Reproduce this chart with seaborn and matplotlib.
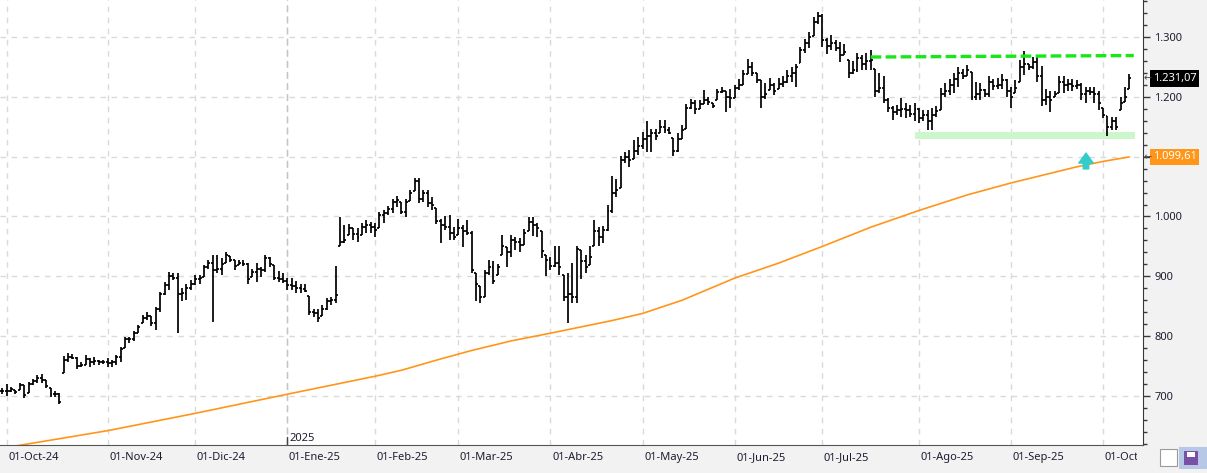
import numpy as np
import matplotlib
matplotlib.use('Agg')
import matplotlib.pyplot as plt
import seaborn as sns
from matplotlib.transforms import Bbox, blended_transform_factory
from matplotlib.patches import Rectangle
from matplotlib.ticker import MultipleLocator

# daily bars (30-Sep-24 .. 09-Oct-25)
highs = [713, 720, 715, 710, 722, 718, 724, 728, 735, 736, 727, 713, 708, 705,
         767, 772, 770, 766, 757, 768, 763, 766, 760, 760, 763, 760, 768, 782, 799,
         799, 809, 819, 835, 841, 834, 849, 874, 891, 908, 905, 905, 880, 888, 894, 902,
         902, 919, 927, 936, 936, 930, 941, 934, 927, 928, 927, 922, 913, 922, 916, 936,
         932, 919, 909, 905, 898, 897, 893, 888, 888, 867, 846, 846, 852, 863, 865, 917,
         999, 986, 988, 980, 980, 989, 994, 991, 989, 1008, 1011, 1018, 1030, 1034, 1025,
         1029, 1045, 1065, 1064, 1045, 1044, 1032, 1015, 995, 1001, 1003, 983, 995, 986,
         994, 975, 905, 883, 911, 927, 926, 921, 969, 949, 969, 965, 964, 979, 999, 999, 989,
         975, 936, 933, 951, 950, 902, 906, 923, 951, 944, 936, 951, 994, 983, 984, 1019,
         1067, 1062, 1101, 1108, 1111, 1128, 1133, 1142, 1160, 1147, 1146, 1162, 1162, 1149,
         1131, 1139, 1153, 1188, 1196, 1195, 1194, 1211, 1200, 1190, 1213,
         1216, 1209, 1213, 1220, 1229, 1244, 1263, 1259, 1240, 1228, 1223, 1231, 1223, 1231,
         1234, 1244, 1250, 1255, 1284, 1296, 1309, 1333, 1342, 1338, 1299, 1303, 1295, 1291,
         1289, 1262, 1260, 1274, 1270, 1273,
         1278, 1246, 1239, 1234, 1198, 1184, 1186, 1198, 1189, 1186, 1190, 1181, 1178, 1178,
         1181, 1184, 1214, 1223, 1229, 1239, 1249, 1246, 1253, 1242, 1224, 1223, 1213, 1235,
         1229, 1231, 1238, 1229, 1216, 1228, 1261, 1276, 1255, 1266, 1267, 1252, 1213, 1209,
         1209, 1235, 1234, 1229, 1229, 1228, 1223, 1217, 1216, 1217, 1209, 1181, 1168, 1167,
         1166, 1200, 1217, 1238]
lows = [703, 700, 706, 703, 710, 697, 705, 718, 722, 722, 713, 699, 699, 687,
        738, 757, 761, 745, 749, 752, 749, 752, 752, 754, 749, 749, 752, 757, 780,
        788, 792, 805, 822, 827, 817, 810, 841, 869, 877, 894, 805, 858, 860, 877, 886,
        888, 899, 913, 824, 905, 902, 922, 924, 911, 919, 917, 888, 899, 891, 899, 908,
        916, 894, 891, 889, 877, 877, 872, 872, 873, 835, 832, 824, 833, 843, 852, 855,
        951, 955, 969, 961, 958, 969, 972, 973, 966, 980, 989, 1003, 1005, 1016, 1004,
        999, 1026, 1042, 1023, 1025, 1016, 1011, 988, 955, 977, 961, 961, 969, 949,
        969, 906, 858, 855, 866, 902, 888, 902, 936, 916, 932, 944, 941, 952, 976, 967, 966,
        930, 900, 911, 916, 902, 858, 822, 856, 855, 895, 906, 919, 950, 951, 956, 975,
        1005, 1032, 1047, 1090, 1082, 1096, 1103, 1112, 1107, 1108, 1127, 1139, 1139, 1138,
        1101, 1107, 1129, 1147, 1179, 1172, 1179, 1188, 1186, 1181, 1194,
        1207, 1175, 1181, 1198, 1211, 1220, 1238, 1235, 1223, 1181, 1196, 1211, 1203, 1213,
        1217, 1223, 1224, 1216, 1257, 1274, 1281, 1302, 1322, 1283, 1272, 1279, 1276, 1259,
        1270, 1231, 1238, 1242, 1245, 1244,
        1245, 1200, 1206, 1189, 1175, 1161, 1170, 1167, 1164, 1166, 1159, 1156, 1159, 1145,
        1144, 1166, 1178, 1200, 1203, 1207, 1216, 1229, 1235, 1194, 1195, 1195, 1199, 1200,
        1212, 1213, 1213, 1200, 1181, 1206, 1224, 1237, 1244, 1246, 1225, 1184, 1186, 1174,
        1200, 1207, 1206, 1209, 1209, 1213, 1194, 1189, 1203, 1189, 1178, 1164, 1134, 1145,
        1145, 1178, 1192, 1213]
closes = [708, 708, 711, 706, 718, 702, 720, 725, 730, 727, 716, 704, 703, 690,
          760, 766, 764, 750, 752, 762, 756, 758, 756, 757, 755, 757, 766, 778, 796,
          795, 806, 816, 830, 834, 822, 846, 870, 885, 900, 898, 870, 872, 880, 888, 896,
          898, 915, 922, 910, 912, 920, 935, 928, 918, 922, 920, 895, 908, 912, 910, 930,
          920, 898, 895, 893, 885, 884, 880, 878, 876, 840, 838, 830, 845, 858, 860, 868,
          958, 960, 980, 970, 965, 982, 985, 983, 978, 1002, 1005, 1012, 1025, 1028, 1008,
          1025, 1040, 1060, 1030, 1040, 1022, 1020, 992, 985, 983, 972, 966, 980, 975,
          972, 910, 888, 865, 905, 915, 893, 915, 950, 940, 960, 958, 952, 972, 990, 985, 980,
          942, 927, 918, 922, 915, 865, 870, 865, 945, 925, 915, 932, 975, 965, 978, 1010,
          1040, 1045, 1095, 1100, 1095, 1110, 1118, 1130, 1135, 1140, 1135, 1150, 1145, 1140,
          1110, 1130, 1145, 1182, 1190, 1180, 1188, 1195, 1192, 1185, 1208,
          1210, 1200, 1198, 1215, 1220, 1238, 1250, 1240, 1228, 1200, 1205, 1220, 1210, 1222,
          1225, 1235, 1240, 1250, 1278, 1290, 1300, 1325, 1335, 1295, 1285, 1290, 1282, 1270,
          1275, 1240, 1245, 1265, 1255, 1260,
          1262, 1210, 1215, 1195, 1182, 1175, 1178, 1180, 1178, 1172, 1180, 1165, 1170, 1160,
          1170, 1176, 1205, 1210, 1220, 1230, 1240, 1235, 1245, 1200, 1205, 1212, 1205, 1225,
          1218, 1220, 1228, 1210, 1200, 1215, 1250, 1255, 1250, 1258, 1235, 1195, 1200, 1195,
          1204, 1225, 1220, 1222, 1218, 1220, 1205, 1210, 1208, 1205, 1190, 1170, 1150, 1160,
          1150, 1190, 1200, 1231.07]

# moving average (orange), read at a few bars
ma_pos = [1, 24, 44, 65, 85, 91, 100, 107, 116, 125, 139, 146, 155, 167, 177, 187, 198,
          209, 220, 230, 245, 251, 257]
ma_vals = [614, 642, 671, 703, 733, 743, 762, 776, 792, 805, 826, 838, 860, 897, 922,
           950, 982, 1010, 1036, 1056, 1083, 1092, 1099.61]

month_pos = [1, 24, 44, 65, 85, 104, 125, 146, 167, 187, 209, 230, 251]
month_labels = ['01-Oct-24', '01-Nov-24', '01-Dic-24', '01-Ene-25', '01-Feb-25',
                '01-Mar-25', '01-Abr-25', '01-May-25', '01-Jun-25', '01-Jul-25',
                '01-Ago-25', '01-Sep-25', '01-Oct-25']
y_ticks = [700, 800, 900, 1000, 1100, 1200, 1300]
y_hidden = [1100]  # label sits under the orange value box
year_pos = 65

last_close = 1231.07
last_ma = 1099.61
resist_x = [198, 258]
resist_y = [1266.5, 1269]
support_x = [208, 258.3]
support_lo, support_hi = 1129.5, 1140.5
arrow_x, arrow_lo, arrow_hi = 247.1, 1079.5, 1106

assert len(highs) == len(lows) == len(closes)

sns.set_style('white')
plt.rcParams['font.family'] = ['Noto Sans', 'DejaVu Sans']

W, H = 1207, 473
fig = plt.figure(figsize=(W / 100, H / 100), dpi=100, facecolor='#f2f2f3')
ax = fig.add_axes([0, 28 / H, 1143 / W, 445 / H])
ax.set_facecolor('white')

x = np.arange(len(closes))
hi = np.array(highs, float)
lo = np.array(lows, float)
cl = np.array(closes, float)
op = np.clip(np.r_[cl[0], cl[:-1]], lo, hi)  # open tick ~ prior close

ax.set_xlim(-0.52, 260.1)
ax.set_ylim(618.1, 1361.8)

# grid
for v in y_ticks:
    ax.axhline(v, color='#dadada', lw=1, ls=(0, (4, 4)), zorder=0)
for p in month_pos:
    ax.axvline(p, color='#dadada', lw=1, ls=(0, (4, 4)), zorder=0)
ax.axvline(year_pos, color='#c4c4c4', lw=1, ls=(0, (5, 3)), zorder=0)

# annotations
ax.fill_between(support_x, support_lo, support_hi, color='#ccf6cc', lw=0, zorder=1)
ax.plot(resist_x, resist_y, color='#19e619', lw=2.4, dashes=(3.2, 1.3),
        solid_capstyle='butt', zorder=4)

# moving average
sns.lineplot(x=ma_pos, y=ma_vals, ax=ax, color='#ff961a', lw=1.2, zorder=2)

# OHLC bars
ax.vlines(x, lo, hi, color='black', lw=1.25, zorder=3)
ax.hlines(op, x - 0.45, x, color='black', lw=1.25, zorder=3)
ax.hlines(cl, x, x + 0.45, color='black', lw=1.25, zorder=3)

ax.annotate('', xy=(arrow_x, arrow_hi), xytext=(arrow_x, arrow_lo),
            arrowprops=dict(arrowstyle='simple,head_width=1.3,head_length=0.9,tail_width=0.5',
                            color='#33cccc', mutation_scale=8, shrinkA=0, shrinkB=0),
            zorder=5)

# spines / axes
for s in ['top', 'left']:
    ax.spines[s].set_visible(False)
ax.spines['right'].set_color('#3a3a3a')
ax.spines['bottom'].set_color('#555555')
ax.yaxis.tick_right()
ax.set_yticks(y_ticks)
ax.set_yticklabels(['' if v in y_hidden else f'{v:,}'.replace(',', '.') for v in y_ticks])
ax.yaxis.set_minor_locator(MultipleLocator(20))
ax.tick_params(axis='y', which='major', length=5, width=1, color='#3a3a3a',
               labelsize=8, pad=3, labelcolor='#1e1e30')
ax.tick_params(axis='y', which='minor', length=3, width=1, color='#3a3a3a')
ax.set_xticks(month_pos)
ax.set_xticklabels([])
ax.tick_params(axis='x', length=12, width=1, color='#555555')

bt = blended_transform_factory(ax.transData, ax.transAxes)
clip = Bbox([[0, 0], [1137, H]])
for p, lab in zip(month_pos, month_labels):
    t = ax.text(p + 0.35, -0.029, lab, transform=bt, ha='left', va='center',
                fontsize=8, color='#1e1e30', clip_on=False)
    t.set_clip_box(clip)
    t.set_clip_on(True)
ax.text(year_pos + 0.4, 0.014, '2025', transform=bt, ha='left', va='center',
        fontsize=8, color='#1e1e30')
ax.plot([year_pos, year_pos], [0, 0.018], transform=bt, color='#444444', lw=1)


def es_fmt(v):
    return f'{v:,.2f}'.replace(',', 'X').replace('.', ',').replace('X', '.')


# last value boxes
rt = blended_transform_factory(ax.transAxes, ax.transData)
ax.text(1.0085, last_close, es_fmt(last_close), transform=rt, ha='left', va='center',
        fontsize=8, color='white', clip_on=False,
        bbox=dict(boxstyle='square,pad=0.25', fc='black', ec='none'))
ax.text(1.0085, last_ma, es_fmt(last_ma), transform=rt, ha='left', va='center',
        fontsize=8, color='white', clip_on=False,
        bbox=dict(boxstyle='square,pad=0.25', fc='#ff961a', ec='none'))
for v in (last_close, last_ma):
    ax.text(1.0008, v, '\u2190', transform=rt, ha='left', va='center', fontsize=7,
            color='#444444', family='DejaVu Sans', clip_on=False)

# small toolbar icons bottom right
ft = fig.transFigure
fig.patches.append(Rectangle((1179 / W, 4 / H), 28 / W, 22 / H, transform=ft,
                             fc='#b6c8e6', ec='none'))
fig.patches.append(Rectangle((1160 / W, 7 / H), 17 / W, 17 / H, transform=ft,
                             fc='white', ec='#9a9a9a', lw=0.8))
fig.patches.append(Rectangle((1184 / W, 8 / H), 14 / W, 14 / H, transform=ft,
                             fc='#7a4fa6', ec='none'))
fig.patches.append(Rectangle((1187 / W, 16 / H), 8 / W, 5 / H, transform=ft,
                             fc='white', ec='none'))

fig.savefig('out.png', dpi=100, facecolor=fig.get_facecolor())
